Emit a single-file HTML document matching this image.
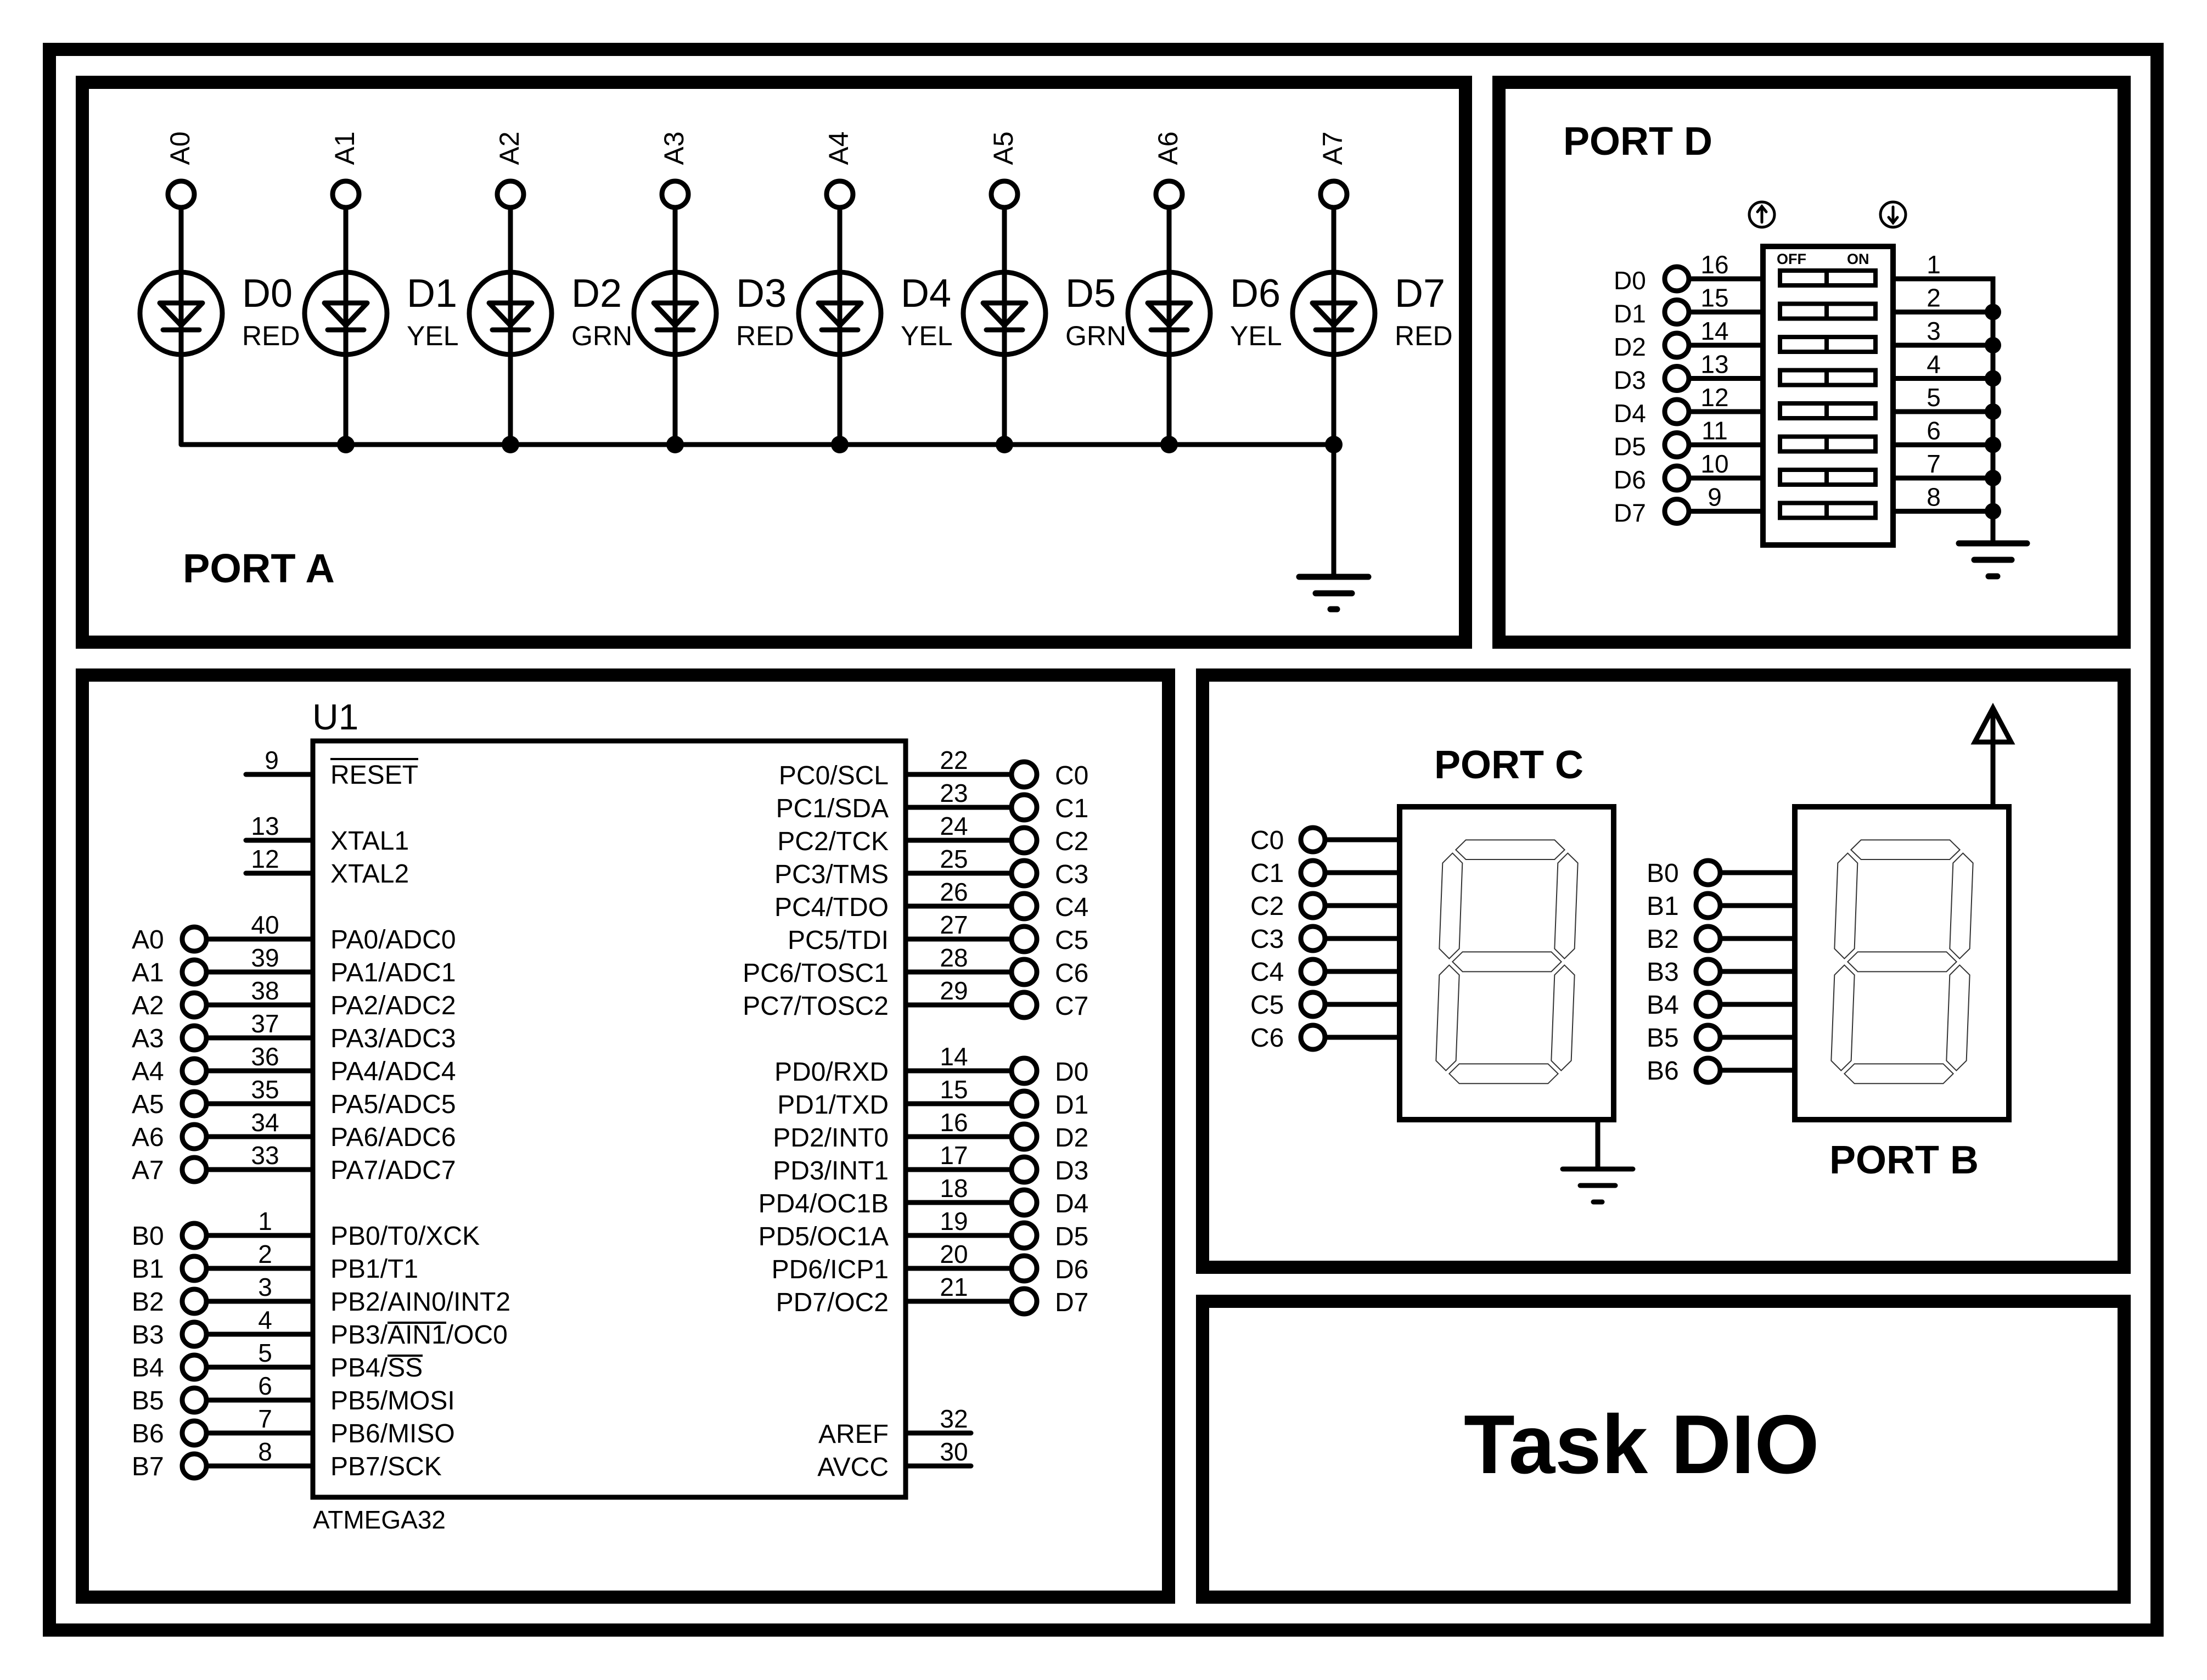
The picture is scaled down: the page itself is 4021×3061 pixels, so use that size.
<!DOCTYPE html>
<html><head><meta charset="utf-8"><style>
html,body{margin:0;padding:0;background:#fff}
svg{display:block}
text{font-family:"Liberation Sans",Arial,sans-serif;fill:#000}
.b{font-weight:bold}
</style></head><body>
<svg width="4021" height="3061" viewBox="0 0 4021 3061" xmlns="http://www.w3.org/2000/svg">
<rect width="4021" height="3061" fill="#fff"/>
<g fill="none" stroke="#000" stroke-width="24">
<rect x="90" y="90" width="3840" height="2880"/>
<rect x="150" y="150" width="2520" height="1020"/>
<rect x="2731" y="150" width="1139" height="1020"/>
<rect x="150" y="1230" width="1979" height="1680"/>
<rect x="2191" y="1230" width="1679" height="1079"/>
<rect x="2191" y="2371" width="1679" height="539"/>
</g>

<!-- PORT A LEDs -->
<g stroke="#000" stroke-width="9" fill="none" stroke-linecap="round">
<path d="M330 810H2430M2430 810V1051"/>
<g id="led">
<circle cx="330" cy="354" r="24" fill="#fff"/>
<path d="M330 378V810"/>
<circle cx="330" cy="571" r="75"/>
<path d="M291 552H369L330 593Z" stroke-linejoin="round"/>
<path d="M297 601H363"/>
</g>
<use href="#led" x="300"/><use href="#led" x="600"/><use href="#led" x="900"/>
<use href="#led" x="1200"/><use href="#led" x="1500"/><use href="#led" x="1800"/><use href="#led" x="2100"/>
<path d="M2367 1051H2493M2397 1081H2463M2424 1110H2436" stroke-width="11"/>
</g>
<g fill="#000">
<circle cx="630" cy="810" r="16"/><circle cx="930" cy="810" r="16"/><circle cx="1230" cy="810" r="16"/>
<circle cx="1530" cy="810" r="16"/><circle cx="1830" cy="810" r="16"/><circle cx="2130" cy="810" r="16"/><circle cx="2430" cy="810" r="16"/>
</g>
<g font-size="50" text-anchor="middle">
<text transform="translate(345,270) rotate(-90)">A0</text>
<text transform="translate(645,270) rotate(-90)">A1</text>
<text transform="translate(945,270) rotate(-90)">A2</text>
<text transform="translate(1245,270) rotate(-90)">A3</text>
<text transform="translate(1545,270) rotate(-90)">A4</text>
<text transform="translate(1845,270) rotate(-90)">A5</text>
<text transform="translate(2145,270) rotate(-90)">A6</text>
<text transform="translate(2445,270) rotate(-90)">A7</text>
</g>
<g font-size="72">
<text x="441" y="559">D0</text><text x="741" y="559">D1</text><text x="1041" y="559">D2</text><text x="1341" y="559">D3</text>
<text x="1641" y="559">D4</text><text x="1941" y="559">D5</text><text x="2241" y="559">D6</text><text x="2541" y="559">D7</text>
</g>
<g font-size="50">
<text x="441" y="629">RED</text><text x="741" y="629">YEL</text><text x="1041" y="629">GRN</text><text x="1341" y="629">RED</text>
<text x="1641" y="629">YEL</text><text x="1941" y="629">GRN</text><text x="2241" y="629">YEL</text><text x="2541" y="629">RED</text>
</g>
<text x="333" y="1061" class="b" font-size="74">PORT A</text>

<!-- PORT D -->
<text x="2848" y="282" class="b" font-size="72">PORT D</text>
<g stroke="#000" fill="none" stroke-width="5" stroke-linecap="round">
<circle cx="3210" cy="391" r="23"/><path d="M3210 405V377M3202 386L3210 376L3218 386"/>
<circle cx="3449" cy="391" r="23"/><path d="M3449 377V405M3441 396L3449 406L3457 396"/>
</g>
<g stroke="#000" fill="none" stroke-width="9">
<rect x="3212" y="449" width="237" height="544" stroke-width="10"/>
<path d="M3449 508H3631V990"/>
<path d="M3569 990H3693M3597 1020H3665M3623 1050H3639" stroke-width="11" stroke-linecap="round"/>
<g id="dr">
<circle cx="3055" cy="508" r="22" fill="#fff"/>
<path d="M3077 508H3212"/>
<rect x="3243" y="493" width="174" height="27" stroke-width="8"/>
<path d="M3328 493V520" stroke-width="8"/>
</g>
<use href="#dr" y="60.5"/><use href="#dr" y="121"/><use href="#dr" y="181.5"/><use href="#dr" y="242"/><use href="#dr" y="302.5"/><use href="#dr" y="363"/><use href="#dr" y="423.5"/>
<path d="M3449 568.5H3631M3449 629H3631M3449 689.5H3631M3449 750H3631M3449 810.5H3631M3449 871H3631M3449 931.5H3631"/>
</g>
<g fill="#000">
<circle cx="3631" cy="568.5" r="15"/><circle cx="3631" cy="629" r="15"/><circle cx="3631" cy="689.5" r="15"/><circle cx="3631" cy="750" r="15"/>
<circle cx="3631" cy="810.5" r="15"/><circle cx="3631" cy="871" r="15"/><circle cx="3631" cy="931.5" r="15"/>
</g>
<text x="3237" y="481" class="b" font-size="27">OFF</text><text x="3365" y="481" class="b" font-size="27">ON</text>
<g font-size="46">
<text x="2940" y="527">D0</text><text x="2940" y="587.5">D1</text><text x="2940" y="648">D2</text><text x="2940" y="708.5">D3</text>
<text x="2940" y="769">D4</text><text x="2940" y="829.5">D5</text><text x="2940" y="890">D6</text><text x="2940" y="950.5">D7</text>
</g>
<g font-size="46" text-anchor="middle">
<text x="3124" y="498">16</text><text x="3124" y="558.5">15</text><text x="3124" y="619">14</text><text x="3124" y="679.5">13</text>
<text x="3124" y="740">12</text><text x="3124" y="800.5">11</text><text x="3124" y="861">10</text><text x="3124" y="921.5">9</text>
<text x="3523" y="498">1</text><text x="3523" y="558.5">2</text><text x="3523" y="619">3</text><text x="3523" y="679.5">4</text>
<text x="3523" y="740">5</text><text x="3523" y="800.5">6</text><text x="3523" y="861">7</text><text x="3523" y="921.5">8</text>
</g>

<!-- U1 -->
<text x="569" y="1329" font-size="66">U1</text>
<text x="570" y="2785" font-size="46">ATMEGA32</text>
<g stroke="#000" stroke-width="9" fill="none" stroke-linecap="round">
<rect x="570" y="1350" width="1080" height="1378"/>
<path d="M448 1411H570M448 1531H570M448 1591H570"/>
<path d="M376 1711H570M376 1771H570M376 1831H570M376 1891H570M376 1951H570M376 2011H570M376 2071H570M376 2131H570"/>
<path d="M376 2251H570M376 2311H570M376 2371H570M376 2431H570M376 2491H570M376 2551H570M376 2611H570M376 2671H570"/>
<path d="M1650 1411H1842M1650 1471H1842M1650 1531H1842M1650 1591H1842M1650 1651H1842M1650 1711H1842M1650 1771H1842M1650 1831H1842"/>
<path d="M1650 1951H1842M1650 2011H1842M1650 2071H1842M1650 2131H1842M1650 2191H1842M1650 2251H1842M1650 2311H1842M1650 2371H1842"/>
<path d="M1650 2611H1769M1650 2671H1769"/>
<path d="M602 1383H762M706 2410H813M706 2470H770" stroke-width="4" stroke-linecap="butt"/>
</g>
<g stroke="#000" stroke-width="9" fill="#fff">
<circle cx="354" cy="1711" r="22"/><circle cx="354" cy="1771" r="22"/><circle cx="354" cy="1831" r="22"/><circle cx="354" cy="1891" r="22"/>
<circle cx="354" cy="1951" r="22"/><circle cx="354" cy="2011" r="22"/><circle cx="354" cy="2071" r="22"/><circle cx="354" cy="2131" r="22"/>
<circle cx="354" cy="2251" r="22"/><circle cx="354" cy="2311" r="22"/><circle cx="354" cy="2371" r="22"/><circle cx="354" cy="2431" r="22"/>
<circle cx="354" cy="2491" r="22"/><circle cx="354" cy="2551" r="22"/><circle cx="354" cy="2611" r="22"/><circle cx="354" cy="2671" r="22"/>
<circle cx="1866" cy="1411" r="23"/><circle cx="1866" cy="1471" r="23"/><circle cx="1866" cy="1531" r="23"/><circle cx="1866" cy="1591" r="23"/>
<circle cx="1866" cy="1651" r="23"/><circle cx="1866" cy="1711" r="23"/><circle cx="1866" cy="1771" r="23"/><circle cx="1866" cy="1831" r="23"/>
<circle cx="1866" cy="1951" r="23"/><circle cx="1866" cy="2011" r="23"/><circle cx="1866" cy="2071" r="23"/><circle cx="1866" cy="2131" r="23"/>
<circle cx="1866" cy="2191" r="23"/><circle cx="1866" cy="2251" r="23"/><circle cx="1866" cy="2311" r="23"/><circle cx="1866" cy="2371" r="23"/>
</g>
<g font-size="48">
<text x="240" y="1728">A0</text><text x="240" y="1788">A1</text><text x="240" y="1848">A2</text><text x="240" y="1908">A3</text>
<text x="240" y="1968">A4</text><text x="240" y="2028">A5</text><text x="240" y="2088">A6</text><text x="240" y="2148">A7</text>
<text x="240" y="2268">B0</text><text x="240" y="2328">B1</text><text x="240" y="2388">B2</text><text x="240" y="2448">B3</text>
<text x="240" y="2508">B4</text><text x="240" y="2568">B5</text><text x="240" y="2628">B6</text><text x="240" y="2688">B7</text>
<text x="602" y="1428">RESET</text><text x="602" y="1548">XTAL1</text><text x="602" y="1608">XTAL2</text>
<text x="602" y="1728">PA0/ADC0</text><text x="602" y="1788">PA1/ADC1</text><text x="602" y="1848">PA2/ADC2</text><text x="602" y="1908">PA3/ADC3</text>
<text x="602" y="1968">PA4/ADC4</text><text x="602" y="2028">PA5/ADC5</text><text x="602" y="2088">PA6/ADC6</text><text x="602" y="2148">PA7/ADC7</text>
<text x="602" y="2268">PB0/T0/XCK</text><text x="602" y="2328">PB1/T1</text><text x="602" y="2388">PB2/AIN0/INT2</text><text x="602" y="2448">PB3/AIN1/OC0</text>
<text x="602" y="2508">PB4/SS</text><text x="602" y="2568">PB5/MOSI</text><text x="602" y="2628">PB6/MISO</text><text x="602" y="2688">PB7/SCK</text>
<text x="1922" y="1429">C0</text><text x="1922" y="1489">C1</text><text x="1922" y="1549">C2</text><text x="1922" y="1609">C3</text>
<text x="1922" y="1669">C4</text><text x="1922" y="1729">C5</text><text x="1922" y="1789">C6</text><text x="1922" y="1849">C7</text>
<text x="1922" y="1969">D0</text><text x="1922" y="2029">D1</text><text x="1922" y="2089">D2</text><text x="1922" y="2149">D3</text>
<text x="1922" y="2209">D4</text><text x="1922" y="2269">D5</text><text x="1922" y="2329">D6</text><text x="1922" y="2389">D7</text>
</g>
<g font-size="48" text-anchor="end">
<text x="1619" y="1429">PC0/SCL</text><text x="1619" y="1489">PC1/SDA</text><text x="1619" y="1549">PC2/TCK</text><text x="1619" y="1609">PC3/TMS</text>
<text x="1619" y="1669">PC4/TDO</text><text x="1619" y="1729">PC5/TDI</text><text x="1619" y="1789">PC6/TOSC1</text><text x="1619" y="1849">PC7/TOSC2</text>
<text x="1619" y="1969">PD0/RXD</text><text x="1619" y="2029">PD1/TXD</text><text x="1619" y="2089">PD2/INT0</text><text x="1619" y="2149">PD3/INT1</text>
<text x="1619" y="2209">PD4/OC1B</text><text x="1619" y="2269">PD5/OC1A</text><text x="1619" y="2329">PD6/ICP1</text><text x="1619" y="2389">PD7/OC2</text>
<text x="1619" y="2629">AREF</text><text x="1619" y="2689">AVCC</text>
</g>
<g font-size="46" text-anchor="middle">
<text x="495" y="1401">9</text><text x="483" y="1521">13</text><text x="483" y="1581">12</text>
<text x="483" y="1701">40</text><text x="483" y="1761">39</text><text x="483" y="1821">38</text><text x="483" y="1881">37</text>
<text x="483" y="1941">36</text><text x="483" y="2001">35</text><text x="483" y="2061">34</text><text x="483" y="2121">33</text>
<text x="483" y="2241">1</text><text x="483" y="2301">2</text><text x="483" y="2361">3</text><text x="483" y="2421">4</text>
<text x="483" y="2481">5</text><text x="483" y="2541">6</text><text x="483" y="2601">7</text><text x="483" y="2661">8</text>
<text x="1738" y="1401">22</text><text x="1738" y="1461">23</text><text x="1738" y="1521">24</text><text x="1738" y="1581">25</text>
<text x="1738" y="1641">26</text><text x="1738" y="1701">27</text><text x="1738" y="1761">28</text><text x="1738" y="1821">29</text>
<text x="1738" y="1941">14</text><text x="1738" y="2001">15</text><text x="1738" y="2061">16</text><text x="1738" y="2121">17</text>
<text x="1738" y="2181">18</text><text x="1738" y="2241">19</text><text x="1738" y="2301">20</text><text x="1738" y="2361">21</text>
<text x="1738" y="2601">32</text><text x="1738" y="2661">30</text>
</g>

<!-- 7 segment -->
<text x="2613" y="1418" class="b" font-size="72">PORT C</text>
<text x="3333" y="2138" class="b" font-size="72">PORT B</text>
<g stroke="#000" stroke-width="10" fill="none">
<rect x="2550" y="1470" width="390" height="570"/>
<rect x="3270" y="1470" width="390" height="570"/>
</g>
<g stroke="#000" stroke-width="9" fill="none" stroke-linecap="round">
<path d="M2414 1530H2550M2414 1590H2550M2414 1650H2550M2414 1710H2550M2414 1770H2550M2414 1830H2550M2414 1890H2550"/>
<path d="M3134 1590H3270M3134 1650H3270M3134 1710H3270M3134 1770H3270M3134 1830H3270M3134 1890H3270M3134 1950H3270"/>
<path d="M2911 2040V2130M2847 2130H2975M2879 2160H2943M2903 2190H2919" />
<path d="M3631 1470V1300M3631 1290L3598 1352H3664Z" stroke-linejoin="miter"/>
</g>
<g stroke="#000" stroke-width="9" fill="#fff">
<circle cx="2392" cy="1530" r="22"/><circle cx="2392" cy="1590" r="22"/><circle cx="2392" cy="1650" r="22"/><circle cx="2392" cy="1710" r="22"/>
<circle cx="2392" cy="1770" r="22"/><circle cx="2392" cy="1830" r="22"/><circle cx="2392" cy="1890" r="22"/>
<circle cx="3112" cy="1590" r="22"/><circle cx="3112" cy="1650" r="22"/><circle cx="3112" cy="1710" r="22"/><circle cx="3112" cy="1770" r="22"/>
<circle cx="3112" cy="1830" r="22"/><circle cx="3112" cy="1890" r="22"/><circle cx="3112" cy="1950" r="22"/>
</g>
<g font-size="48">
<text x="2278" y="1547">C0</text><text x="2278" y="1607">C1</text><text x="2278" y="1667">C2</text><text x="2278" y="1727">C3</text>
<text x="2278" y="1787">C4</text><text x="2278" y="1847">C5</text><text x="2278" y="1907">C6</text>
<text x="3000" y="1607">B0</text><text x="3000" y="1667">B1</text><text x="3000" y="1727">B2</text><text x="3000" y="1787">B3</text>
<text x="3000" y="1847">B4</text><text x="3000" y="1907">B5</text><text x="3000" y="1967">B6</text>
</g>
<g id="seg" transform="translate(2500,1450) scale(0.33333,0.3827)" fill="none" stroke="#333" stroke-width="2">
<polygon vector-effect="non-scaling-stroke" points="457,257 512,210 997,210 1052,257 997,303 512,303"/>
<polygon vector-effect="non-scaling-stroke" points="439,790 494,743 979,743 1034,790 979,837 494,837"/>
<polygon vector-effect="non-scaling-stroke" points="421,1323 476,1276 961,1276 1016,1323 961,1370 476,1370"/>
<polygon vector-effect="non-scaling-stroke" points="439,273 493,320 476,728 421,775 367,728 385,320"/>
<polygon vector-effect="non-scaling-stroke" points="1069,273 1124,320 1106,728 1051,775 997,728 1015,320"/>
<polygon vector-effect="non-scaling-stroke" points="421,806 476,853 458,1261 403,1308 349,1261 367,853"/>
<polygon vector-effect="non-scaling-stroke" points="1051,806 1106,853 1088,1261 1033,1308 979,1261 997,853"/>
</g>
<use href="#seg" x="720"/>

<text x="2667" y="2684" class="b" font-size="152">Task DIO</text>
</svg>
</body></html>
